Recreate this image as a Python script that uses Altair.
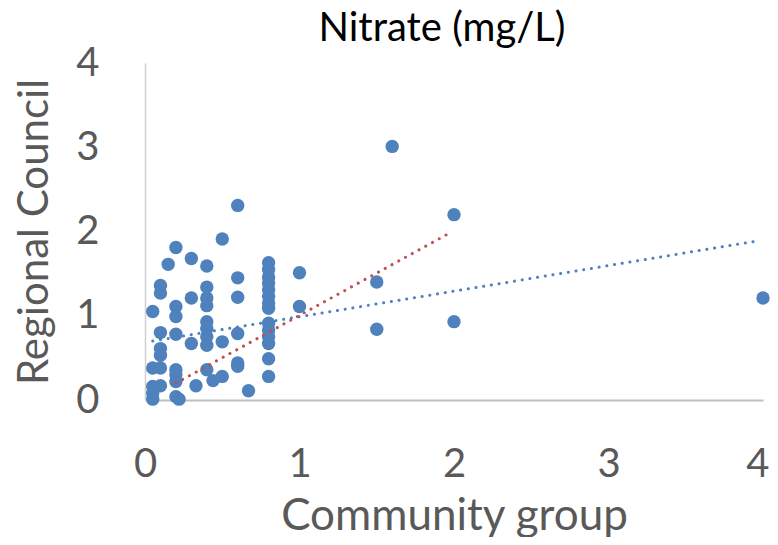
import altair as alt
import pandas as pd

# Scatter data (Community group vs Regional Council)
community = [0.60, 0.50, 0.20, 0.15, 0.30, 0.40, 0.10, 0.10, 0.60, 0.60,
             0.40, 0.40, 0.40, 0.30, 0.20, 0.20, 0.05, 0.10, 0.20, 0.40,
             0.40, 0.40, 0.40, 0.30, 0.50, 0.60, 0.60, 0.60, 0.10, 0.10,
             0.05, 0.10, 0.20, 0.20, 0.20, 0.40, 0.44, 0.50, 0.33, 0.67,
             0.05, 0.10, 0.05, 0.05, 0.20, 0.22,
             0.80, 0.80, 0.80, 0.80, 0.80, 0.80, 0.80, 0.80, 0.80, 0.80,
             0.80, 0.80, 0.80, 0.80,
             1.00, 1.00, 1.60, 2.00, 1.50, 1.50, 2.00, 4.00]
regional = [2.31, 1.91, 1.81, 1.61, 1.68, 1.59, 1.36, 1.27, 1.45, 1.22,
            1.34, 1.21, 1.12, 1.21, 1.11, 0.99, 1.05, 0.80, 0.78, 0.93,
            0.85, 0.75, 0.65, 0.67, 0.69, 0.79, 0.44, 0.40, 0.61, 0.53,
            0.38, 0.38, 0.36, 0.30, 0.22, 0.36, 0.23, 0.28, 0.17, 0.11,
            0.16, 0.17, 0.08, 0.01, 0.04, 0.01,
            1.63, 1.55, 1.46, 1.39, 1.31, 1.23, 1.15, 1.09, 0.91, 0.83,
            0.75, 0.67, 0.49, 0.28,
            1.51, 1.11, 3.01, 2.20, 1.40, 0.84, 0.93, 1.21]

# Trendline end points
blue_trend_x = [0.05, 3.97]
blue_trend_y = [0.70, 1.89]
red_trend_x = [0.20, 1.97]
red_trend_y = [0.20, 1.98]

x_ticks = [0, 1, 2, 3, 4]
y_ticks = [0, 1, 2, 3, 4]

FONT = "Lato"
GRAY = "#595959"

pts = pd.DataFrame({"x": community, "y": regional})
blue_df = pd.DataFrame({"x": blue_trend_x, "y": blue_trend_y})
red_df = pd.DataFrame({"x": red_trend_x, "y": red_trend_y})

xscale = alt.Scale(domain=[0, 4], nice=False, zero=False)
yscale = alt.Scale(domain=[0, 4], nice=False, zero=False)

xaxis = alt.Axis(values=x_ticks, format="d", title="Community group", grid=False, ticks=False,
                 labelFlush=False, labelOverlap=False,
                 labelAlign=alt.expr("datum.value == 4 ? 'right' : 'center'"),
                 labelOffset=alt.expr("datum.value == 4 ? 6 : 0"),
                 domainColor="#bfbfbf", domainWidth=2,
                 labelFont=FONT, labelFontSize=40, labelColor=GRAY, labelPadding=44,
                 titleFont=FONT, titleFontSize=44, titleColor=GRAY,
                 titleFontWeight="normal", titlePadding=10)
yaxis = alt.Axis(values=y_ticks, format="d", title="Regional Council", grid=False, ticks=False,
                 labelFlush=False, labelOverlap=False,
                 domainColor="#d0d0d0", domainWidth=1.5,
                 labelFont=FONT, labelFontSize=40, labelColor=GRAY, labelPadding=46,
                 titleFont=FONT, titleFontSize=42, titleColor=GRAY,
                 titleFontWeight="normal", titlePadding=19)

points = alt.Chart(pts).mark_circle(size=180, opacity=1, color="#4F81BD").encode(
    x=alt.X("x:Q", scale=xscale, axis=xaxis),
    y=alt.Y("y:Q", scale=yscale, axis=yaxis),
)

blue_line = alt.Chart(blue_df).mark_line(
    color="#4F81BD", strokeWidth=3, strokeDash=[0.1, 7.7], strokeCap="round"
).encode(x=alt.X("x:Q", scale=xscale), y=alt.Y("y:Q", scale=yscale))

red_line = alt.Chart(red_df).mark_line(
    color="#C0504D", strokeWidth=3, strokeDash=[0.1, 7.6], strokeCap="round"
).encode(x=alt.X("x:Q", scale=xscale), y=alt.Y("y:Q", scale=yscale))

chart = alt.layer(points, blue_line, red_line).properties(
    width=618,
    height=337,
    title=alt.Title("Nitrate (mg/L)", font=FONT, fontSize=40, fontWeight="normal",
                    color="#000000", anchor="middle", offset=-6, dx=-12),
    autosize=alt.AutoSizeParams(type="none"),
    padding={"left": 137, "top": 55, "right": 7, "bottom": 137},
).configure_view(stroke=None)

chart.save("out.html", embed_options={"renderer": "svg", "actions": False})
